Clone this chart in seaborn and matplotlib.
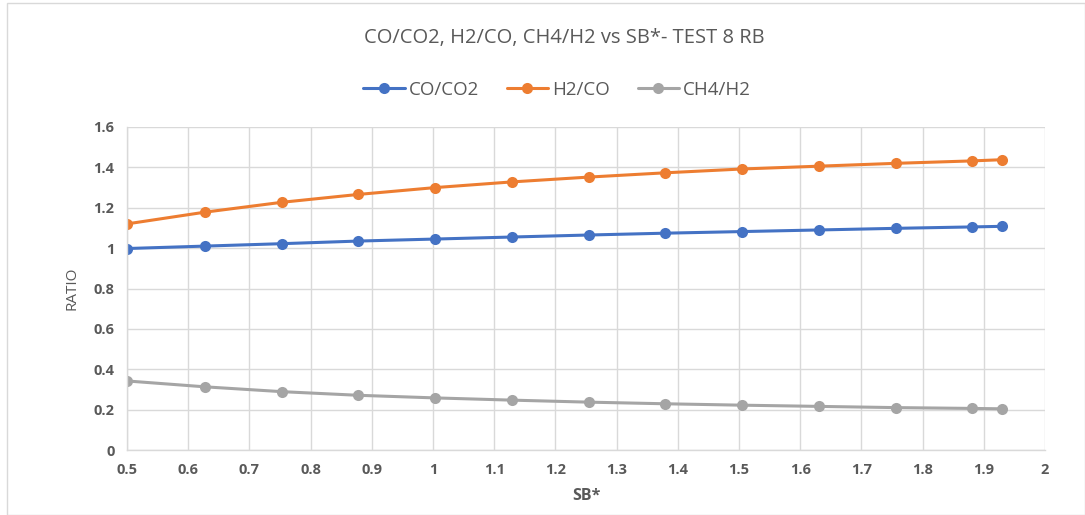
import matplotlib
matplotlib.use("Agg")
import matplotlib.pyplot as plt
import seaborn as sns
import pandas as pd
from matplotlib.patches import Rectangle

# Ratios of gas species against SB*
sb = [0.5, 0.627, 0.753, 0.878, 1.004, 1.129, 1.255, 1.379, 1.505, 1.631, 1.756, 1.880, 1.93]
co_co2 = [0.998, 1.010, 1.022, 1.035, 1.045, 1.055, 1.065, 1.074, 1.082, 1.090, 1.098, 1.105, 1.108]
h2_co = [1.120, 1.178, 1.227, 1.266, 1.300, 1.328, 1.352, 1.373, 1.392, 1.406, 1.420, 1.432, 1.438]
ch4_h2 = [0.342, 0.313, 0.289, 0.271, 0.258, 0.247, 0.237, 0.229, 0.222, 0.216, 0.210, 0.206, 0.204]

series_names = ["CO/CO2", "H2/CO", "CH4/H2"]
colors = ["#4472C4", "#ED7D31", "#A5A5A5"]
x_ticks = [0.5, 0.6, 0.7, 0.8, 0.9, 1, 1.1, 1.2, 1.3, 1.4, 1.5, 1.6, 1.7, 1.8, 1.9, 2]
y_ticks = [0, 0.2, 0.4, 0.6, 0.8, 1, 1.2, 1.4, 1.6]

df = pd.DataFrame({"SB*": sb * 3,
                   "value": co_co2 + h2_co + ch4_h2,
                   "series": sum([[n] * len(sb) for n in series_names], [])})

sns.set_theme(style="white")
plt.rcParams["font.family"] = ["Open Sans", "DejaVu Sans"]
txt = "#595959"

fig = plt.figure(figsize=(10.85, 5.15), dpi=100)
ax = fig.add_axes([127 / 1085, 1 - 450 / 515, (1045 - 127) / 1085, (450 - 127) / 515])

sns.lineplot(data=df, x="SB*", y="value", hue="series", hue_order=series_names,
             palette=colors, marker="o", markersize=8, markeredgewidth=0,
             linewidth=2.2, ax=ax, legend=False)

ax.set_xlim(0.5, 2)
ax.set_ylim(0, 1.6)
ax.set_xticks(x_ticks)
ax.set_xticklabels([f"{v:g}" for v in x_ticks])
ax.set_yticks(y_ticks)
ax.set_yticklabels([f"{v:g}" for v in y_ticks])
ax.grid(True, color="#D9D9D9", linewidth=1)
ax.set_axisbelow(True)
for s in ["top", "right"]:
    ax.spines[s].set_visible(False)
for s in ["left", "bottom"]:
    ax.spines[s].set_color("#D9D9D9")
    ax.spines[s].set_linewidth(1)
ax.tick_params(axis="both", length=0, pad=9, labelsize=10.5, labelcolor=txt)
for lab in ax.get_xticklabels() + ax.get_yticklabels():
    lab.set_fontweight("bold")

ax.set_xlabel("SB*", fontsize=11.5, color=txt, fontweight="bold", labelpad=8)
ax.set_ylabel("RATIO", fontsize=11, color=txt, labelpad=10)

fig.text(564 / 1085, 1 - 38 / 515, "CO/CO2, H2/CO, CH4/H2 vs SB*- TEST 8 RB",
         ha="center", va="center", fontsize=14.5, color=txt)

handles = [plt.Line2D([], [], color=c, marker="o", markersize=8, markeredgewidth=0,
                      linewidth=2.2) for c in colors]
fig.legend(handles, series_names, loc="center", bbox_to_anchor=(557 / 1085, 1 - 90 / 515),
           ncol=3, frameon=False, fontsize=13.5, labelcolor=txt, handlelength=2.2,
           handletextpad=0.2, columnspacing=1.5)

fig.add_artist(Rectangle((7 / 1085, 0), 1 - 7 / 1085, 1 - 3 / 515, transform=fig.transFigure,
                         fill=False, edgecolor="#D9D9D9", linewidth=1))

fig.savefig("out.png", dpi=100, facecolor="white")
